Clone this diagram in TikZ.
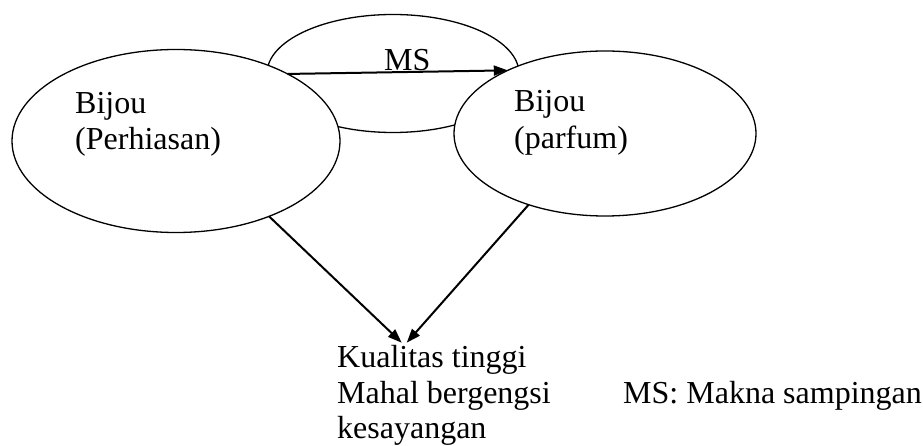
\documentclass[tikz,border=0pt]{standalone}
\usepackage{fontspec}
\setmainfont{Liberation Serif}
\usetikzlibrary{shapes.geometric,arrows.meta}
\begin{document}
\begin{tikzpicture}[x=1pt,y=-1pt,
  oval/.style={ellipse,draw,line width=1.3pt,fill=white,inner sep=0pt,outer sep=0pt},
  lbl/.style={anchor=base west,inner sep=0pt,font=\fontsize{32}{37}\selectfont},
  conn/.style={line width=2pt,-{Triangle[length=14pt,width=10pt]}}]
\useasboundingbox (0,0) rectangle (923,446);
\node[oval,minimum width=252pt,minimum height=118pt] (T) at (393,73.5) {};
\node[oval,minimum width=328pt,minimum height=183pt] (L) at (176,141) {};
\node[oval,minimum width=302pt,minimum height=165pt] (R) at (605,133.5) {};
\node[lbl] (lb1) at (75,114) {Bijou};
\node[lbl] (lb2) at (75,150) {(Perhiasan)};
\node[lbl] (rb1) at (514,112) {Bijou};
\node[lbl] (rb2) at (514,149) {(parfum)};
\node[lbl] (ms) at (384,71) {MS};
\node[lbl] (k1) at (337,367) {Kualitas tinggi};
\node[lbl] (k2) at (337,403) {Mahal bergengsi};
\node[lbl] (k3) at (337,438) {kesayangan};
\node[lbl] (leg) at (623,403) {MS: Makna sampingan};
\coordinate (tipL) at (401.7,342.7);
\coordinate (tipR) at (406.7,342.7);
\draw[conn] (L.31.5) -- (R.147.5);
\draw[conn] (L.-39.6) -- (tipL);
\draw[conn] (R.-137.1) -- (tipR);
\end{tikzpicture}
\end{document}
